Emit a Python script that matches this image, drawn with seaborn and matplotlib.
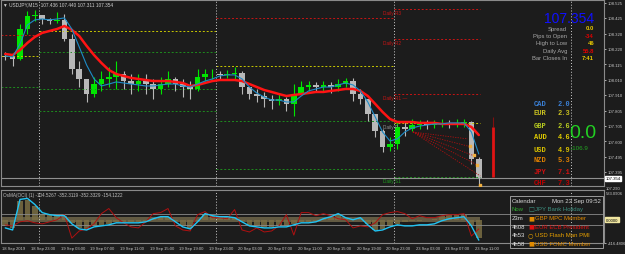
import matplotlib
matplotlib.use('Agg')
import matplotlib.pyplot as plt
import matplotlib.patches as mpatches
import seaborn as sns

# hourly bars, hour 0 = 18 Sep 19:00 (weekend skipped)
hours = list(range(65))
first_open = 108.171
closes = [108.164, 108.151, 108.351, 108.438, 108.445, 108.418, 108.405, 108.412, 108.284, 108.084,
          108.017, 107.916, 107.983, 108.017, 108.030, 108.050, 108.003, 107.983, 108.003, 107.983,
          107.950, 107.983, 108.017, 107.983, 107.963, 107.950, 108.030, 108.050, 108.050, 108.044,
          108.050, 108.057, 107.963, 107.916, 107.903, 107.883, 107.870, 107.883, 107.850, 107.916,
          107.963, 107.977, 107.963, 107.977, 107.963, 107.983, 108.003, 107.916, 107.883, 107.783,
          107.669, 107.562, 107.582, 107.696, 107.682, 107.709, 107.716, 107.709, 107.716, 107.722,
          107.716, 107.722, 107.729, 107.482, 107.354]
highs = [108.197, 108.184, 108.385, 108.472, 108.478, 108.438, 108.425, 108.465, 108.452, 108.318,
         108.137, 108.017, 108.030, 108.070, 108.097, 108.137, 108.070, 108.050, 108.050, 108.050,
         108.017, 108.030, 108.070, 108.030, 108.017, 108.003, 108.084, 108.084, 108.084, 108.070,
         108.077, 108.097, 108.070, 107.963, 107.950, 107.930, 107.910, 107.916, 107.896, 107.983,
         108.003, 108.003, 107.997, 108.003, 107.997, 108.017, 108.023, 108.023, 107.950, 107.883,
         107.783, 107.682, 107.629, 107.736, 107.736, 107.749, 107.743, 107.743, 107.743, 107.749,
         107.743, 107.749, 107.749, 107.736, 107.495]
lows = [108.144, 108.104, 108.144, 108.318, 108.405, 108.385, 108.385, 108.391, 108.271, 108.050,
        107.963, 107.863, 107.896, 107.937, 107.963, 107.950, 107.950, 107.916, 107.937, 107.916,
        107.883, 107.916, 107.963, 107.937, 107.896, 107.883, 107.937, 108.003, 108.017, 108.017,
        108.023, 108.017, 107.916, 107.883, 107.863, 107.829, 107.816, 107.843, 107.803, 107.769,
        107.916, 107.937, 107.930, 107.937, 107.923, 107.937, 107.963, 107.870, 107.850, 107.736,
        107.629, 107.529, 107.535, 107.549, 107.636, 107.669, 107.683, 107.683, 107.689, 107.696,
        107.689, 107.696, 107.696, 107.448, 107.301]
slow_ma = [108.184, 108.177, 108.211, 108.258, 108.298, 108.325, 108.338, 108.351, 108.371, 108.345,
           108.304, 108.238, 108.177, 108.124, 108.077, 108.050, 108.037, 108.024, 108.017, 108.010,
           108.003, 108.003, 108.003, 107.997, 107.990, 107.970, 107.977, 107.990, 108.003, 108.010,
           108.010, 108.010, 108.003, 107.983, 107.963, 107.943, 107.930, 107.916, 107.903, 107.910,
           107.916, 107.923, 107.930, 107.930, 107.937, 107.943, 107.950, 107.950, 107.937, 107.903,
           107.850, 107.796, 107.749, 107.729, 107.729, 107.729, 107.723, 107.723, 107.723, 107.716,
           107.716, 107.716, 107.716, 107.696, 107.642]
fast_ma = [108.171, 108.164, 108.251, 108.378, 108.412, 108.418, 108.412, 108.418, 108.425, 108.351,
           108.231, 108.110, 108.017, 107.970, 107.983, 107.997, 107.990, 107.983, 107.977, 107.970,
           107.970, 107.977, 107.983, 107.983, 107.970, 107.963, 107.983, 108.003, 108.017, 108.037,
           108.044, 108.044, 108.017, 107.963, 107.923, 107.896, 107.876, 107.876, 107.863, 107.863,
           107.903, 107.937, 107.950, 107.963, 107.963, 107.977, 107.990, 107.977, 107.937, 107.863,
           107.763, 107.662, 107.602, 107.616, 107.662, 107.689, 107.702, 107.709, 107.716, 107.716,
           107.723, 107.723, 107.723, 107.662, 107.515]

# oscillator sub window
osma_main = [-146, -183, 365, 383, 274, 128, 91, 73, 73, -73, -164, -183, -128, -110, -91, -55, -55, -55, -55, -37,
             18, 55, 55, -37, -128, -164, -37, 110, 73, 55, 55, 37, -37, -110, -128, -146, -146, -128, -128, -91,
             -55, -55, -37, 18, 55, 110, 37, 0, 37, -91, -201, -183, -128, -91, -110, -110, -91, -91, -73, -18,
             18, 37, 55, -110, -365]
osma_signal = [-91, -110, -37, -18, -55, -73, -37, 0, 91, -329, -201, -164, -73, 110, 201, 37, -55, -128, -146, -37,
               110, 128, 201, -110, -183, -201, 91, 146, 37, 37, 18, 183, -183, -219, -146, -219, -201, -110, 91, -274,
               128, 128, 73, 110, 73, 18, 0, -146, -110, -128, -55, 91, 128, 146, 110, 18, 73, 37, 37, 73,
               91, 91, 110, -292, -164]
osma_hist = [-120, -150, 330, 360, 250, 110, 80, 60, 60, -60, -140, -160, -110, -90, -80, -45, -45, -45, -45, -30,
             15, 45, 45, -30, -110, -140, -30, 95, 60, 45, 45, 30, -30, -95, -110, -125, -125, -110, -110, -80,
             -45, -45, -30, 15, 45, 95, 30, 0, 30, -80, -175, -160, -110, -80, -40, -30, -20, -10, 20, 60,
             80, 90, 90, -95, -320]

# daily pivot levels per trading day
day_start = [-0.07, 5, 29, 53]
day_end = [5, 29, 53, 64.7]
pivot_p = [108.171, 108.338, 108.104, 107.723]
resist = [[108.311], [], [108.425], [108.485, 108.284, 107.916]]
support = [[107.963], [108.197, 107.950, 107.803], [107.736, 107.415], [107.362]]
today_labels = ['Daily R3', 'Daily R2', 'Daily R1 \u2014', 'Daily P', 'Daily S1']
today_levels = [108.485, 108.284, 107.916, 107.723, 107.362]
day_separators = [5, 29, 53, 77]

fan_start = (55.6, 107.662)
fan_end_h = [63.0, 63.5, 63.9, 64.3, 64.7]
fan_end_p = [107.616, 107.562, 107.502, 107.442, 107.368]
alert_h = [63.3, 63.8, 64.2, 64.6]
alert_p = [107.570, 107.505, 107.440, 107.310]

price_ticks = [108.525, 108.425, 108.320, 108.220, 108.115, 108.010, 107.910, 107.805,
               107.705, 107.600, 107.495, 107.395]
time_ticks = list(range(0, 65, 4))
time_labels = ['18 Sep 2019', '18 Sep 23:00', '19 Sep 03:00', '19 Sep 07:00', '19 Sep 11:00',
               '19 Sep 15:00', '19 Sep 19:00', '19 Sep 23:00', '20 Sep 03:00', '20 Sep 07:00',
               '20 Sep 11:00', '20 Sep 15:00', '20 Sep 19:00', '20 Sep 23:00', '23 Sep 03:00',
               '23 Sep 07:00', '23 Sep 11:00']
last_price = 107.354

info_names = ['Spread', 'Pips to Open', 'High to Low', 'Daily Avg', 'Bar Closes In']
info_values = ['0.0', '-34', '46', '55.8', '7:41']
info_colors = ['#e8c800', '#e00000', '#e8c800', '#e00000', '#e8c800']

currencies = ['CAD', 'EUR', 'GBP', 'AUD', 'USD', 'NZD', 'JPY', 'CHF']
strength = [2.0, 2.3, 2.6, 4.6, 4.9, 5.3, 7.1, 7.3]
cur_colors = ['#3a7fd5', '#c8c020', '#b8cc20', '#e0cc00', '#d8c000', '#e08000', '#d01010', '#c00000']

cal_time = ['Now', '23m', '4h08', '4h53', '4h58']
cal_event = ['JPY Bank Holiday', 'GBP MPC Member', 'EUR ECB President', 'USD Flash Man PMI', 'USD FOMC Member']
cal_color = ['#3c9080', '#e08a00', '#e01010', '#e8a000', '#e08a00']

BG = '#1c1c1c'
sns.set_theme(style='dark', rc={'axes.facecolor': BG, 'figure.facecolor': BG,
                                'axes.edgecolor': '#808080', 'axes.grid': False})
plt.rcParams['font.family'] = ['Liberation Sans', 'DejaVu Sans']

W, H = 625, 255
def fx(px):
    return px / W
def fy(py):
    return 1 - py / H

fig = plt.figure(figsize=(6.25, 2.55), dpi=100)
ax = fig.add_axes([fx(1), fy(187), (604 - 1) / W, (187 - 1) / H])
axs = fig.add_axes([fx(1), fy(244), (604 - 1) / W, (244 - 191) / H])
xlim = (-0.07, 81.42)

# ---- main price window
for i in range(4):
    ax.hlines(pivot_p[i], day_start[i], day_end[i], colors='#c8c800', lw=0.7, linestyles=(0, (2, 2)))
    for r in resist[i]:
        ax.hlines(r, day_start[i], day_end[i], colors='#c81414', lw=0.7, linestyles=(0, (2, 2)))
    for s in support[i]:
        ax.hlines(s, day_start[i], day_end[i], colors='#1e8c1e', lw=0.7, linestyles=(0, (2, 2)))

ax.axhline(last_price, color='#909090', lw=0.8)
for d in day_separators:
    ax.axvline(d, color='#d0d0d0', lw=0.7, ls=(0, (1, 2)))
    axs.axvline(d, color='#d0d0d0', lw=0.7, ls=(0, (1, 2)))

opens = [first_open] + closes[:-1]
centers = [h + 0.5 for h in hours]
cols = ['#00e600' if c >= o else '#b8b8b8' for o, c in zip(opens, closes)]
ax.vlines(centers, lows, highs, colors=cols, lw=0.8)
ax.bar(centers, [max(abs(c - o), 0.003) for o, c in zip(opens, closes)],
       bottom=[min(o, c) for o, c in zip(opens, closes)], width=0.75, color=cols, linewidth=0)

for he, pe in zip(fan_end_h, fan_end_p):
    ax.plot([fan_start[0], he], [fan_start[1], pe], color='#b01010', lw=0.6, ls=(0, (1.5, 1.5)))

sns.lineplot(x=centers, y=slow_ma, ax=ax, color='#ff1414', lw=1.8)
sns.lineplot(x=centers, y=fast_ma, ax=ax, color='#1e8cc8', lw=0.8)
ax.scatter(alert_h, alert_p, s=3, marker='s', color='#f0b040', zorder=5)

ax.vlines(66.4, 107.696, 107.763, colors='#801010', lw=0.8)
ax.vlines(66.4, 107.361, 107.696, colors='#e01414', lw=2.0)

for lab, lv in zip(today_labels, today_levels):
    c = '#c81414' if 'R' in lab else ('#909090' if lab == 'Daily P' else '#1e9c1e')
    ax.text(51.6, lv - 0.005, lab, color=c, fontsize=3.4, va='top', ha='left')

ax.set_xlim(*xlim)
ax.set_ylim(107.301, 108.545)
ax.set_xticks([])
ax.yaxis.tick_right()
ax.set_yticks(price_ticks)
ax.set_yticklabels(['%.3f' % t for t in price_ticks])
ax.tick_params(axis='y', right=True, length=1.5, width=0.6, colors='#c8c8c8', labelsize=3.1, pad=1)
for sp in ax.spines.values():
    sp.set_color('#8a8a8a')
    sp.set_linewidth(0.8)
ax.annotate('%.3f' % last_price, xy=(1.003, last_price), xycoords=('axes fraction', 'data'),
            fontsize=3.1, color='black', va='center', ha='left',
            bbox=dict(boxstyle='square,pad=0.12', fc='white', ec='white'))

# ---- oscillator window
axs.fill_between([xlim[0], 64.7], -45, 45, color='#a89868', alpha=0.5, lw=0)
axs.bar(centers, osma_hist, width=0.75, color='#7a6e44', alpha=0.85, linewidth=0)
axs.axhline(100, color='#8a8a8a', lw=0.6)
axs.axhline(-100, color='#8a8a8a', lw=0.6)
sns.lineplot(x=centers, y=osma_signal, ax=axs, color='#b01010', lw=0.7)
sns.lineplot(x=centers, y=osma_main, ax=axs, color='#20c4f4', lw=1.0)
axs.set_xlim(*xlim)
axs.set_ylim(-416.4806, 533.0906)
axs.yaxis.tick_right()
axs.set_yticks([-416.4806])
axs.set_yticklabels(['-416.4806'])
axs.set_xticks(time_ticks)
axs.set_xticklabels(time_labels, ha='left')
axs.tick_params(axis='both', length=1.5, width=0.6, colors='#c8c8c8', labelsize=3.0, pad=1)
for sp in axs.spines.values():
    sp.set_color('#8a8a8a')
    sp.set_linewidth(0.8)
axs.annotate('0.0000', xy=(1.003, 0), xycoords=('axes fraction', 'data'), fontsize=3.0,
             color='black', va='center', ha='left',
             bbox=dict(boxstyle='square,pad=0.12', fc='#f0e6a0', ec='#f0e6a0'))

# ---- overlay texts
fig.text(fx(3), fy(5), '\u25bc USDJPY,M15  107.436 107.440 107.311 107.354', color='#d0d0d0',
         fontsize=3.4, va='center', ha='left')
fig.text(fx(3), fy(196), 'OsMA(OCI) (1) -104.5267 -352.3119 -352.3329 -154.1222', color='#c0c0c0',
         fontsize=3.3, va='center', ha='left')
fig.text(fx(606), fy(188.5), '107.290', color='#c8c8c8', fontsize=3.0, va='center', ha='left')
fig.text(fx(606), fy(194.5), '533.0906', color='#c8c8c8', fontsize=3.0, va='center', ha='left')

fig.text(fx(594), fy(19), '107.354', color='#1010ff', fontsize=10, va='center', ha='right')
for k, (n, v, c) in enumerate(zip(info_names, info_values, info_colors)):
    yy = 29 + 7.4 * k
    fig.text(fx(567), fy(yy), n, color='#a8a8a8', fontsize=4.2, va='center', ha='right')
    fig.text(fx(594), fy(yy), v, color=c, fontsize=4.2, va='center', ha='right', weight='bold')

cur_y = [104, 114, 126, 138, 150, 161, 172, 184]
for cur, st, c, yy in zip(currencies, strength, cur_colors, cur_y):
    fig.text(fx(534), fy(yy), cur, color=c, fontsize=5.0, family='Liberation Mono',
             weight='bold', va='center', ha='left')
    fig.text(fx(558), fy(yy), '%.1f' % st, color=c, fontsize=5.0, family='Liberation Mono',
             weight='bold', va='center', ha='left')
fig.text(fx(583), fy(134), '0.0', color='#22d022', fontsize=14, va='center', ha='center')
fig.text(fx(569), fy(148), '\u2193106.9', color='#22a822', fontsize=4.5, va='center', ha='left')

fig.patches.append(mpatches.Rectangle((fx(510), fy(249)), (603 - 510) / W, (249 - 197) / H,
                                      transform=fig.transFigure, fill=False, ec='#9a9a9a', lw=0.7))
fig.text(fx(512), fy(201.5), 'Calendar', color='#d8d8d8', fontsize=4.3, va='center', ha='left')
fig.text(fx(601), fy(201.5), 'Mon 23 Sep 09:52', color='#d8d8d8', fontsize=4.3, va='center', ha='right')
for k, (t, e, c) in enumerate(zip(cal_time, cal_event, cal_color)):
    yy = 210 + 8.6 * k
    fig.text(fx(512), fy(yy), t, color='#30a830' if t == 'Now' else '#e0e0e0', fontsize=4.3,
             va='center', ha='left')
    fig.text(fx(528), fy(yy), '\u25a1' if k == 0 else ('\u25cb' if k == 3 else '\u25a0'), color=c,
             fontsize=4.5, va='center', ha='left', family='DejaVu Sans')
    fig.text(fx(535), fy(yy), e, color=c, fontsize=4.3, va='center', ha='left')

fig.savefig('out.png', dpi=100, facecolor=fig.get_facecolor())
